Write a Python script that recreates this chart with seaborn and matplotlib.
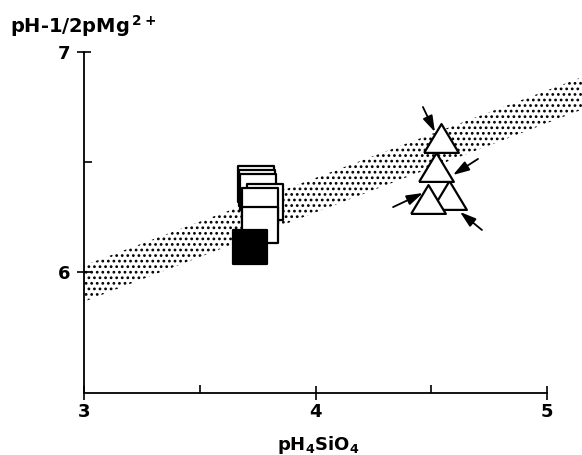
import matplotlib
matplotlib.use("Agg")
import matplotlib.pyplot as plt
import seaborn as sns

# ---- data ----
band_x = [3.0, 5.2]
band_low = [5.865, 6.758]
band_high = [6.03, 6.905]

open_sq_x = [3.742, 3.747, 3.752, 3.781, 3.759, 3.759]
open_sq_y = [6.401, 6.382, 6.364, 6.318, 6.300, 6.214]
filled_sq_x = [3.717]
filled_sq_y = [6.114]

tri_x = [4.577, 4.486, 4.521, 4.542]
tri_y = [6.350, 6.332, 6.477, 6.610]

arrow_x0 = [4.464, 4.702, 4.335, 4.719]
arrow_y0 = [6.750, 6.514, 6.295, 6.191]
arrow_x1 = [4.516, 4.594, 4.464, 4.624]
arrow_y1 = [6.636, 6.441, 6.359, 6.273]

x_major = [3, 4, 5]
x_minor = [3.5, 4.5]
y_major = [6, 7]
y_minor = [6.5]

sns.set_style("ticks")
plt.rcParams['font.family'] = ['DejaVu Sans']
plt.rcParams['text.color'] = 'black'
plt.rcParams['axes.labelcolor'] = 'black'
plt.rcParams['xtick.color'] = 'black'
plt.rcParams['ytick.color'] = 'black'
plt.rcParams['mathtext.fontset'] = 'custom'
plt.rcParams['mathtext.rm'] = 'DejaVu Sans:bold'
plt.rcParams['mathtext.it'] = 'DejaVu Sans:bold'
plt.rcParams['mathtext.bf'] = 'DejaVu Sans:bold'
plt.rcParams['mathtext.sf'] = 'DejaVu Sans:bold'
plt.rcParams['mathtext.default'] = 'rm'
plt.rcParams['hatch.linewidth'] = 1.2

fig = plt.figure(figsize=(5.82, 4.55), dpi=100)
ax = fig.add_axes([84 / 582, 62 / 455, 463 / 582, 341 / 455])

ax.fill_between(band_x, band_low, band_high, facecolor='none', edgecolor='black',
                hatch='...', linewidth=0, clip_on=False, zorder=1)

sns.scatterplot(x=open_sq_x, y=open_sq_y, marker='s', s=676, color='white',
                edgecolor='black', linewidth=1.6, ax=ax, zorder=3, legend=False)
sns.scatterplot(x=filled_sq_x, y=filled_sq_y, marker='s', s=600, color='black',
                edgecolor='black', linewidth=1.6, ax=ax, zorder=4, legend=False)

tri_marker = [(-1, -0.83), (1, -0.83), (0, 0.83), (-1, -0.83)]
sns.scatterplot(x=tri_x, y=tri_y, marker=tri_marker, s=625, color='white',
                edgecolor='black', linewidth=1.6, ax=ax, zorder=3, legend=False)

for x0, y0, x1, y1 in zip(arrow_x0, arrow_y0, arrow_x1, arrow_y1):
    ax.annotate('', xy=(x1, y1), xytext=(x0, y0),
                arrowprops=dict(arrowstyle='-|>,head_length=0.7,head_width=0.22',
                                color='black', lw=1.3, mutation_scale=14,
                                shrinkA=0, shrinkB=0), zorder=5)

ax.set_xlim(3, 5)
ax.set_ylim(5.45, 7.0)
ax.set_xticks(x_major)
ax.set_xticks(x_minor, minor=True)
ax.set_yticks(y_major)
ax.set_yticks(y_minor, minor=True)
ax.set_xticklabels([str(v) for v in x_major])
ax.set_yticklabels([str(v) for v in y_major])
ax.tick_params(which='major', direction='inout', length=10, width=1.2,
               labelsize=13, color='black', labelcolor='black')
ax.tick_params(axis='x', which='major', pad=2)
ax.tick_params(axis='y', which='major', pad=5)
ax.tick_params(which='minor', direction='in', length=6, width=1.2, color='black')
for lab in ax.get_xticklabels() + ax.get_yticklabels():
    lab.set_fontweight('bold')

for s in ['top', 'right']:
    ax.spines[s].set_visible(False)
for s in ['left', 'bottom']:
    ax.spines[s].set_linewidth(1.3)
    ax.spines[s].set_color('black')

ax.set_ylabel(r'pH-1/2pMg$^{\,2+}$', rotation=0, fontsize=14, fontweight='bold',
              ha='left', va='baseline', color='black')
ax.yaxis.set_label_coords(-0.16, 1.056)
ax.set_xlabel(r'pH$_4$SiO$_4$', fontsize=13, fontweight='bold', va='baseline',
              color='black')
ax.xaxis.set_label_coords(0.505, -0.167)

fig.savefig('out.png', dpi=100)
